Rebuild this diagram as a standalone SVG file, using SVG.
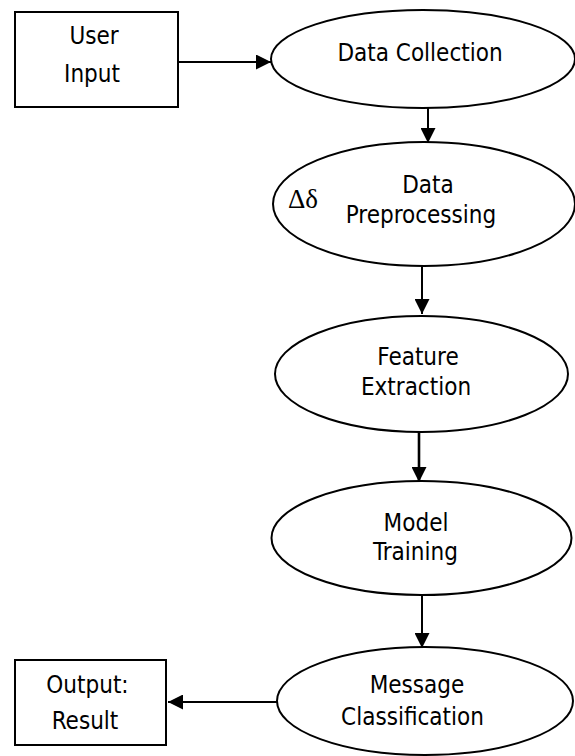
<svg xmlns="http://www.w3.org/2000/svg" width="575" height="756" viewBox="0 0 575 756">
<style>
.shape{fill:#fff;stroke:#000;stroke-width:2}
.lbl{font-family:"DejaVu Sans Condensed","DejaVu Sans","Liberation Sans",sans-serif;font-stretch:condensed;font-size:24px;fill:#000;text-anchor:middle}
.sym{font-family:"Liberation Serif",serif;font-size:27px;fill:#000}
.conn{stroke:#000;stroke-width:2;fill:none;marker-end:url(#ah)}
</style>
<defs>
<marker id="ah" viewBox="0 0 15 15" refX="15" refY="7.5" markerWidth="15" markerHeight="15" markerUnits="userSpaceOnUse" orient="auto">
<path d="M0,0 L15,7.5 L0,15 Z" fill="#000"/>
</marker>
</defs>
<rect width="575" height="756" fill="#fff"/>
<g id="connectors">
<line class="conn" x1="178" y1="62" x2="271" y2="62"/>
<line class="conn" x1="428" y1="108" x2="428" y2="143"/>
<line class="conn" x1="422" y1="266" x2="422" y2="314"/>
<line class="conn" x1="419" y1="432" x2="419" y2="482" style="stroke-width:2.6"/>
<line class="conn" x1="422" y1="595" x2="422" y2="648"/>
<line class="conn" x1="277" y1="702" x2="168" y2="702"/>
</g>
<g id="user-input">
<rect class="shape" x="15" y="12" width="163" height="95"/>
<text class="lbl" x="94" y="44">User</text>
<text class="lbl" x="92" y="82">Input</text>
</g>
<g id="data-collection">
<ellipse class="shape" cx="423" cy="59" rx="152" ry="49"/>
<text class="lbl" x="420" y="61">Data Collection</text>
</g>
<g id="data-preprocessing">
<ellipse class="shape" cx="424" cy="204" rx="151" ry="62"/>
<text class="sym" x="288" y="208">Δδ</text>
<text class="lbl" x="428" y="193">Data</text>
<text class="lbl" x="421" y="223">Preprocessing</text>
</g>
<g id="feature-extraction">
<ellipse class="shape" cx="421.5" cy="374" rx="146.5" ry="58"/>
<text class="lbl" x="418" y="365">Feature</text>
<text class="lbl" x="416" y="395">Extraction</text>
</g>
<g id="model-training">
<ellipse class="shape" cx="421.5" cy="538" rx="150" ry="57"/>
<text class="lbl" x="416" y="531">Model</text>
<text class="lbl" x="415.5" y="560">Training</text>
</g>
<g id="message-classification">
<ellipse class="shape" cx="425" cy="701" rx="148" ry="54"/>
<text class="lbl" x="417" y="693">Message</text>
<text class="lbl" x="412.5" y="725">Classification</text>
</g>
<g id="output-result">
<rect class="shape" x="15" y="660" width="151" height="85"/>
<text class="lbl" x="87.5" y="693">Output:</text>
<text class="lbl" x="85" y="729">Result</text>
</g>
</svg>
